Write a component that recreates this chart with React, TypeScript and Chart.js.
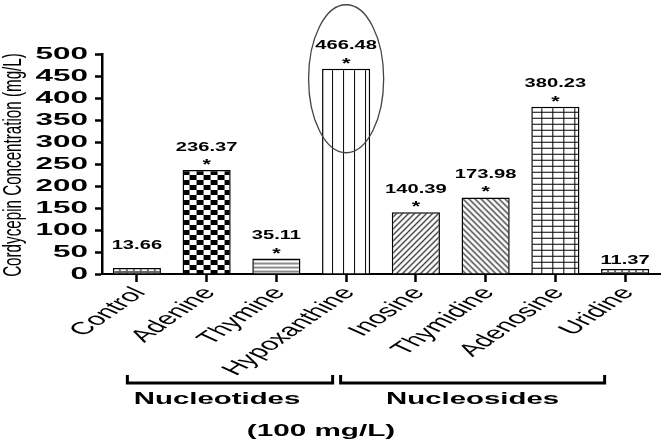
import React, { useEffect, useRef } from 'react';
import { Chart, registerables } from 'chart.js';

Chart.register(...registerables);

const categories = ['Control', 'Adenine', 'Thymine', 'Hypoxanthine', 'Inosine', 'Thymidine', 'Adenosine', 'Uridine'];
const values = [13.66, 236.37, 35.11, 466.48, 140.39, 173.98, 380.23, 11.37];
const significant = [false, true, true, true, true, true, true, false];
const yTickValues = [0, 50, 100, 150, 200, 250, 300, 350, 400, 450, 500];
const yTitle = 'Cordycepin Concentration (mg/L)';
const groupLabels = ['Nucleotides', 'Nucleosides'];
const groupStart = [0, 3];
const groupEnd = [3, 7];
const footnote = '(100 mg/L)';
const highlightIndex = 3;

const FONT = '"Liberation Sans", Arial, sans-serif';

function tile(w: number, h: number, draw: (g: CanvasRenderingContext2D) => void) {
  const c = document.createElement('canvas');
  c.width = w;
  c.height = h;
  const g = c.getContext('2d') as CanvasRenderingContext2D;
  g.fillStyle = '#fff';
  g.fillRect(0, 0, w, h);
  draw(g);
  return c;
}

function makePatterns(ctx: CanvasRenderingContext2D) {
  const dots = tile(7, 4, (g) => {
    g.fillStyle = '#666';
    g.fillRect(0, 0, 7, 4);
    g.fillStyle = '#fff';
    g.fillRect(1, 1, 5, 2);
  });
  const checker = tile(14, 10, (g) => {
    g.fillStyle = '#000';
    g.fillRect(0, 0, 7, 5);
    g.fillRect(7, 5, 7, 5);
  });
  const hLines = tile(1, 4, (g) => {
    g.fillStyle = '#8a8a8a';
    g.fillRect(0, 0, 1, 2);
  });
  const vLines = tile(11, 1, (g) => {
    g.fillStyle = '#000';
    g.fillRect(10, 0, 2, 1);
  });
  const diagUp = tile(6, 6, (g) => {
    g.strokeStyle = '#000';
    g.lineWidth = 1.1;
    g.beginPath();
    g.moveTo(-1, 7); g.lineTo(7, -1);
    g.moveTo(-1, 1); g.lineTo(1, -1);
    g.moveTo(5, 7); g.lineTo(7, 5);
    g.stroke();
  });
  const diagDown = tile(6, 6, (g) => {
    g.strokeStyle = '#000';
    g.lineWidth = 1.1;
    g.beginPath();
    g.moveTo(-1, -1); g.lineTo(7, 7);
    g.moveTo(5, -1); g.lineTo(7, 1);
    g.moveTo(-1, 5); g.lineTo(1, 7);
    g.stroke();
  });
  const grid = tile(11, 6, (g) => {
    g.fillStyle = '#000';
    g.fillRect(10, 0, 1.6, 6);
    g.fillRect(0, 5, 11, 1);
  });
  const sources = [dots, checker, hLines, vLines, diagUp, diagDown, grid, dots];
  return sources.map((s) => ctx.createPattern(s, 'repeat') as CanvasPattern);
}

function stretchText(
  ctx: CanvasRenderingContext2D,
  text: string,
  x: number,
  y: number,
  font: string,
  sx: number,
  align: CanvasTextAlign,
  baseline: CanvasTextBaseline = 'middle',
  rot = 0
) {
  ctx.save();
  ctx.translate(x, y);
  ctx.scale(sx, 1);
  ctx.rotate(rot);
  ctx.font = font;
  ctx.textAlign = align;
  ctx.textBaseline = baseline;
  ctx.fillStyle = '#000';
  ctx.fillText(text, 0, 0);
  ctx.restore();
}

export default function App() {
  const canvasRef = useRef<HTMLCanvasElement>(null);

  useEffect(() => {
    const canvas = canvasRef.current;
    if (!canvas) return;
    const ctx = canvas.getContext('2d') as CanvasRenderingContext2D;
    const patterns = makePatterns(ctx);

    const alignPatterns = {
      id: 'alignPatterns',
      beforeDatasetsDraw(chart: any) {
        const meta = chart.getDatasetMeta(0);
        meta.data.forEach((bar: any, i: number) => {
          const left = bar.x - bar.width / 2;
          const p = patterns[i];
          if (p && (p as any).setTransform) {
            p.setTransform(new DOMMatrix([1, 0, 0, 1, left, bar.y]));
          }
        });
      },
    };

    const annotations = {
      id: 'annotations',
      afterDraw(chart: any) {
        const c = chart.ctx as CanvasRenderingContext2D;
        const xs = chart.scales.x;
        const ys = chart.scales.y;
        const area = chart.chartArea;
        const meta = chart.getDatasetMeta(0);

        // y tick labels
        yTickValues.forEach((v) => {
          stretchText(c, String(v), area.left - 14, ys.getPixelForValue(v), `bold 17px ${FONT}`, 1.85, 'right');
        });

        // y title
        c.save();
        c.translate(14, (area.top + area.bottom) / 2 + 1);
        c.rotate(-Math.PI / 2);
        c.scale(1, 1.7);
        c.font = `15.2px ${FONT}`;
        c.textAlign = 'center';
        c.textBaseline = 'middle';
        c.fillStyle = '#000';
        c.fillText(yTitle, 0, 0);
        c.restore();

        // category labels
        const rot = -51 * Math.PI / 180;
        categories.forEach((cat, i) => {
          const x = xs.getPixelForValue(i);
          stretchText(c, cat, x + 3, area.bottom + 16, `17.5px ${FONT}`, 1.78, 'right', 'middle', rot);
        });

        // value labels and stars
        meta.data.forEach((bar: any, i: number) => {
          const top = bar.y;
          const off = i === categories.length - 1 ? 9 : 23;
          stretchText(c, values[i].toFixed(2), bar.x, top - off, `bold 13px ${FONT}`, 1.55, 'center');
          if (significant[i]) {
            stretchText(c, '*', bar.x, top - 1, `bold 14px ${FONT}`, 1.55, 'center', 'alphabetic');
          }
        });

        // highlight ellipse around the highest bar
        const hb = meta.data[highlightIndex];
        c.save();
        c.strokeStyle = '#444';
        c.lineWidth = 1.3;
        c.beginPath();
        c.ellipse(hb.x, hb.y + 10, hb.width * 0.78, 74, 0, 0, Math.PI * 2);
        c.stroke();
        c.restore();

        // group brackets
        const bracketY = area.bottom + 109;
        const starts = [xs.getPixelForValue(groupStart[0]) - 11, xs.getPixelForValue(groupStart[1]) - 7];
        const ends = [xs.getPixelForValue(groupEnd[0]) - 12, xs.getPixelForValue(groupEnd[1]) - 19];
        c.save();
        c.strokeStyle = '#000';
        c.lineWidth = 3;
        c.lineCap = 'butt';
        groupLabels.forEach((label, g) => {
          const x0 = starts[g];
          const x1 = ends[g];
          c.beginPath();
          c.moveTo(x0 + 1.5, bracketY - 8);
          c.lineTo(x0 + 1.5, bracketY);
          c.lineTo(x1 - 1.5, bracketY);
          c.lineTo(x1 - 1.5, bracketY - 8);
          c.stroke();
          stretchText(c, label, (x0 + x1) / 2 - (g === 0 ? 13 : 0), bracketY + 16, `bold 16.5px ${FONT}`, 1.78, 'center');
        });
        c.restore();

        // footnote
        const mid = (starts[0] + ends[1]) / 2 - 45;
        stretchText(c, footnote, mid, bracketY + 48, `bold 16.5px ${FONT}`, 1.8, 'center');
      },
    };

    const chart = new Chart(canvas, {
      type: 'bar',
      data: {
        labels: categories,
        datasets: [
          {
            data: values,
            backgroundColor: patterns as any,
            borderColor: '#000',
            borderWidth: 1.5,
            barPercentage: 0.69,
            categoryPercentage: 1,
          },
        ],
      },
      options: {
        responsive: false,
        devicePixelRatio: 1,
        animation: false,
        layout: { padding: { left: 0, top: 54, right: 6, bottom: 0 } },
        plugins: { legend: { display: false }, tooltip: { enabled: false }, title: { display: false } },
        scales: {
          x: {
            type: 'category',
            offset: true,
            ticks: { display: false },
            grid: {
              display: true,
              offset: false,
              drawOnChartArea: false,
              drawTicks: true,
              tickLength: 8,
              tickWidth: 2.5,
              tickColor: '#000',
            },
            border: { display: true, color: '#000', width: 2 },
            afterFit: (s: any) => {
              s.height = 169;
            },
          },
          y: {
            min: 0,
            max: 500,
            ticks: { display: false, stepSize: 50 },
            grid: {
              display: true,
              drawOnChartArea: false,
              drawTicks: true,
              tickLength: 7,
              tickWidth: 2.5,
              tickColor: '#000',
            },
            border: { display: true, color: '#000', width: 2.5 },
            afterFit: (s: any) => {
              s.width = 102;
            },
          },
        },
      },
      plugins: [alignPatterns, annotations],
    });

    return () => {
      chart.destroy();
    };
  }, []);

  return (
    <div style={{ position: 'absolute', left: 0, top: 0, width: 666, height: 443, background: '#fff' }}>
      <canvas ref={canvasRef} width={666} height={443} />
    </div>
  );
}
